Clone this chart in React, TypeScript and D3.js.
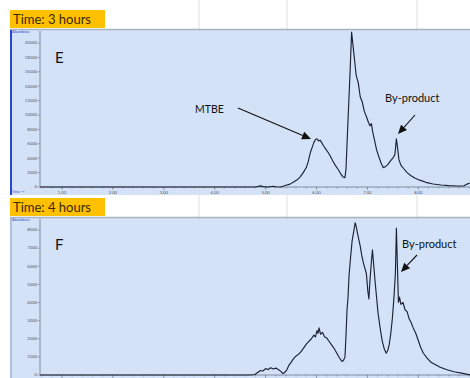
import React from "react";
import * as d3 from "d3";

const W = 470;
const H = 378;

// Panel E (3 hours)
const timesE = [0.57, 4.8, 4.9, 4.95, 5.05, 5.15, 5.2, 5.3, 5.4, 5.48, 5.55, 5.62, 5.68, 5.74, 5.8, 5.84, 5.88, 5.92, 5.95, 5.98, 6.01, 6.04, 6.07, 6.1, 6.14, 6.18, 6.22, 6.27, 6.32, 6.37, 6.42, 6.47, 6.52, 6.56, 6.58, 6.6, 6.63, 6.66, 6.69, 6.72, 6.75, 6.78, 6.82, 6.86, 6.9, 6.94, 6.98, 7.02, 7.05, 7.08, 7.1, 7.14, 7.18, 7.22, 7.27, 7.31, 7.35, 7.4, 7.45, 7.5, 7.54, 7.57, 7.59, 7.62, 7.66, 7.72, 7.78, 7.85, 7.93, 8.03, 8.15, 8.29, 8.45, 8.6, 8.76, 8.9, 8.96, 9.01];
const valuesE = [0, 0, 150, 60, 0, 100, 40, 0, 250, 400, 700, 1000, 1400, 2000, 2700, 3600, 4800, 5600, 6200, 6600, 6700, 6400, 6500, 6200, 5700, 5300, 4900, 4300, 3600, 3000, 2500, 1900, 1400, 1300, 2500, 6000, 11000, 16000, 21500, 19500, 17500, 15500, 14500, 12500, 11800, 10500, 9800, 9000, 8500, 8800, 7800, 6500, 5200, 4300, 3300, 2700, 2800, 3100, 3600, 4000, 4500, 6700, 5600, 3800, 3000, 2500, 2000, 1600, 1250, 950, 650, 420, 280, 200, 140, 160, 400, 550];

// Panel F (4 hours)
const timesF = [0.57, 4.7, 4.79, 4.85, 4.9, 4.95, 5.0, 5.05, 5.1, 5.15, 5.2, 5.25, 5.3, 5.34, 5.38, 5.42, 5.46, 5.5, 5.55, 5.6, 5.65, 5.7, 5.75, 5.8, 5.85, 5.9, 5.95, 5.98, 6.01, 6.03, 6.05, 6.08, 6.12, 6.16, 6.2, 6.25, 6.3, 6.35, 6.4, 6.45, 6.5, 6.53, 6.56, 6.58, 6.6, 6.62, 6.64, 6.67, 6.7, 6.73, 6.76, 6.78, 6.8, 6.83, 6.86, 6.89, 6.92, 6.95, 6.98, 7.01, 7.03, 7.05, 7.08, 7.1, 7.12, 7.15, 7.18, 7.21, 7.25, 7.29, 7.33, 7.37, 7.4, 7.43, 7.46, 7.49, 7.52, 7.55, 7.57, 7.59, 7.61, 7.63, 7.66, 7.7, 7.74, 7.78, 7.82, 7.86, 7.9, 7.95, 8.0, 8.05, 8.1, 8.17, 8.25, 8.35, 8.43, 8.55, 8.7, 8.85, 9.02];
const valuesF = [0, 0, 30, 150, 250, 220, 350, 300, 400, 330, 380, 300, 200, 80, 150, 300, 550, 700, 900, 1050, 1150, 1300, 1500, 1700, 1850, 2000, 2200, 2100, 2450, 2300, 2600, 2250, 2350, 2100, 2050, 1850, 1650, 1450, 1200, 950, 750, 800, 1000, 2200, 3600, 4300, 5500, 6500, 7400, 7900, 8400, 8200, 7900, 7500, 7100, 6600, 6200, 5900, 5600, 4600, 4200, 5200, 6300, 6900, 6200, 5200, 4300, 3400, 2600, 1900, 1450, 1200, 1350, 1700, 2300, 3100, 4200, 5600, 8100, 6000, 4000, 4300, 3900, 4000, 3600, 3500, 3100, 2900, 2600, 2300, 1900, 1500, 1200, 950, 700, 550, 430, 300, 180, 100, 0];

const yTicksE = [0, 2000, 4000, 6000, 8000, 10000, 12000, 14000, 16000, 18000, 20000];
const yTicksF = [0, 1000, 2000, 3000, 4000, 5000, 6000, 7000, 8000];
const xMajor = [1, 2, 3, 4, 5, 6, 7, 8];
const titles = ["Time: 3 hours", "Time: 4 hours"];

const x = d3.scaleLinear().domain([0.568, 9.016]).range([40, 470]);
const xMinor = d3.range(0.6, 9.01, 0.2);

const FONT = "Lato, 'Open Sans', sans-serif";

function Arrow({ x1, y1, x2, y2 }: { x1: number; y1: number; x2: number; y2: number }) {
  const ang = Math.atan2(y2 - y1, x2 - x1);
  const L = 9, Wd = 4;
  const bx = x2 - L * Math.cos(ang), by = y2 - L * Math.sin(ang);
  const px = -Math.sin(ang) * Wd, py = Math.cos(ang) * Wd;
  return (
    <g>
      <line x1={x1} y1={y1} x2={bx} y2={by} stroke="#111" strokeWidth={1.1} />
      <polygon points={`${x2},${y2} ${bx + px},${by + py} ${bx - px},${by - py}`} fill="#111" />
    </g>
  );
}

function Panel({ times, values, yTicks, yDomainMax, y0, yTop, panelTop, panelBottom, labelTop, title, letter, leftBar, showXLabels }: any) {
  const y = d3.scaleLinear().domain([0, yDomainMax]).range([y0, yTop]);
  const data = times.map((t: number, i: number) => [t, values[i]] as [number, number]);
  const line = d3.line<[number, number]>().x((d) => x(d[0])).y((d) => Math.max(panelTop + 2, y(d[1])));
  return (
    <g>
      <rect x={10} y={labelTop} width={95} height={18} fill="#ffc000" />
      <text x={13} y={labelTop + 14} fontFamily={FONT} fontSize={13} fill="#3a2a00">{title}</text>
      <rect x={10} y={panelTop} width={W - 10} height={panelBottom - panelTop} fill="#d3e2f7" />
      <line x1={10} x2={W} y1={panelTop + 0.5} y2={panelTop + 0.5} stroke="#a9b3c0" strokeWidth={1.5} />
      <line x1={11} x2={11} y1={panelTop + 1} y2={panelBottom} stroke={leftBar ? "#2a45d0" : "#8a9bc4"} strokeWidth={leftBar ? 2 : 1} />
      <text x={12} y={panelTop + 4} fontFamily={FONT} fontSize={3.6} fill="#2a45d0">Abundance</text>
      {leftBar && <text x={12} y={panelBottom - 2} fontFamily={FONT} fontSize={3.6} fill="#2a45d0">Time--&gt;</text>}
      <line x1={40} x2={40} y1={panelTop + 2} y2={y0} stroke="#6c7a8c" strokeWidth={0.8} />
      {yTicks.map((v: number) => (
        <g key={v}>
          <line x1={37.5} x2={40} y1={y(v)} y2={y(v)} stroke="#6c7a8c" strokeWidth={0.6} />
          <text x={37} y={y(v) + 1.3} textAnchor="end" fontFamily={FONT} fontSize={4.2} fill="#555">{v}</text>
        </g>
      ))}
      <line x1={40} x2={W} y1={y0} y2={y0} stroke="#6c7a8c" strokeWidth={0.8} />
      {xMinor.map((t: number, i: number) => (
        <line key={i} x1={x(t)} x2={x(t)} y1={y0} y2={y0 + 1.5} stroke="#6c7a8c" strokeWidth={0.6} />
      ))}
      {xMajor.map((t: number) => (
        <g key={t}>
          <line x1={x(t)} x2={x(t)} y1={y0} y2={y0 + 3} stroke="#6c7a8c" strokeWidth={0.6} />
          {showXLabels && <text x={x(t)} y={y0 + 6.5} textAnchor="middle" fontFamily={FONT} fontSize={4.2} fill="#555">{t.toFixed(2)}</text>}
        </g>
      ))}
      <path d={line(data) || ""} fill="none" stroke="#1c2233" strokeWidth={1.15} strokeLinejoin="round" />
      <text x={55} y={letter.y} fontFamily={FONT} fontSize={15} fill="#111">{letter.t}</text>
    </g>
  );
}

export default function App() {
  return (
    <svg width={W} height={H} style={{ position: "absolute", left: 0, top: 0, background: "#fff" }}>
      {[199, 287, 417].map((gx) => (
        <g key={gx}>
          <line x1={gx} x2={gx} y1={0} y2={29} stroke="#d8d8d8" strokeWidth={0.8} />
          <line x1={gx} x2={gx} y1={195} y2={218} stroke="#d8d8d8" strokeWidth={0.8} />
        </g>
      ))}
      <Panel times={timesE} values={valuesE} yTicks={yTicksE} yDomainMax={20000} y0={187} yTop={43}
        panelTop={29} panelBottom={195} labelTop={10} title={titles[0]} letter={{ t: "E", y: 63 }} leftBar={true} showXLabels={true} />
      <Panel times={timesF} values={valuesF} yTicks={yTicksF} yDomainMax={8000} y0={375} yTop={230}
        panelTop={217} panelBottom={H} labelTop={198} title={titles[1]} letter={{ t: "F", y: 250 }} leftBar={false} showXLabels={false} />
      <text x={195} y={113} fontFamily={FONT} fontSize={10.5} fill="#111">MTBE</text>
      <Arrow x1={238} y1={108} x2={311} y2={139} />
      <text x={385} y={102} fontFamily={FONT} fontSize={11} fill="#111">By-product</text>
      <Arrow x1={415} y1={115} x2={398} y2={134} />
      <text x={402} y={248} fontFamily={FONT} fontSize={11} fill="#111">By-product</text>
      <Arrow x1={417} y1={255} x2={401} y2={272} />
    </svg>
  );
}
